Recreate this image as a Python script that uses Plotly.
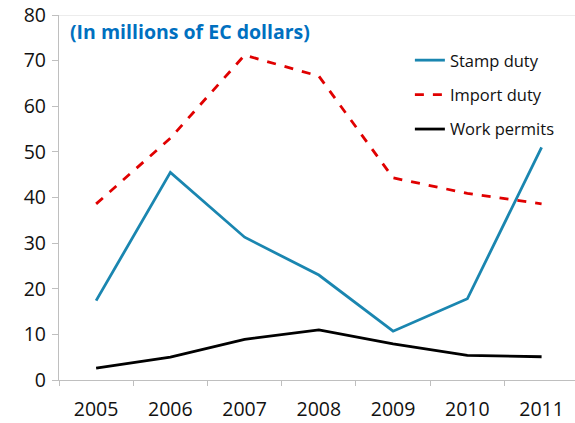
import plotly.graph_objects as go

years = ["2005", "2006", "2007", "2008", "2009", "2010", "2011"]
stamp_duty = [17.4, 45.5, 31.3, 23.0, 10.7, 17.8, 51.0]
import_duty = [38.6, 53.0, 71.2, 66.6, 44.3, 40.9, 38.6]
work_permits = [2.6, 5.0, 8.9, 11.0, 7.9, 5.4, 5.1]
y_ticks = [0, 10, 20, 30, 40, 50, 60, 70, 80]

FONT = "Open Sans"
AXIS_GRAY = "#bfbfbf"

fig = go.Figure()
fig.add_trace(go.Scatter(x=years, y=stamp_duty, mode="lines", name="Stamp duty",
                         legendgroup="a", line=dict(color="#1a86b0", width=2.8)))
fig.add_trace(go.Scatter(x=years, y=import_duty, mode="lines", name="Import duty",
                         legendgroup="b", line=dict(color="#e00000", width=2.8, dash="dash")))
fig.add_trace(go.Scatter(x=years, y=work_permits, mode="lines", name="Work permits",
                         legendgroup="c", line=dict(color="#000000", width=2.8)))

# top border line at the axis maximum
fig.add_shape(type="line", xref="paper", yref="y", x0=-0.013, x1=1, y0=80, y1=80,
              line=dict(color="#d9d9d9", width=1.2), layer="below")

fig.add_annotation(text="<b>(In millions of EC dollars)</b>", xref="paper", yref="paper",
                   x=0.018, y=0.955, xanchor="left", yanchor="middle", showarrow=False,
                   font=dict(family=FONT, size=19.5, color="#0070c0"))

fig.update_layout(
    width=575, height=423,
    margin=dict(l=59, r=0, t=15, b=43),
    paper_bgcolor="white", plot_bgcolor="white",
    font=dict(family=FONT, color="#222222"),
    legend=dict(x=0.68, y=0.9235, xanchor="left", yanchor="top",
                font=dict(family=FONT, size=16.5, color="#111111"),
                tracegroupgap=10, itemwidth=30, bgcolor="rgba(0,0,0,0)"),
    xaxis=dict(type="category", range=[-0.5, 6.45], tickson="boundaries",
               ticks="outside", ticklen=5, tickcolor=AXIS_GRAY,
               showline=True, linecolor=AXIS_GRAY, linewidth=1.2,
               ticklabelstandoff=11,
               showgrid=False, tickfont=dict(family=FONT, size=19.5, color="#111111")),
    yaxis=dict(range=[0, 80], tickvals=y_ticks, ticks="outside", ticklen=6,
               tickcolor=AXIS_GRAY, showline=True, linecolor=AXIS_GRAY, linewidth=1.2,
               showgrid=False, zeroline=False, ticklabelstandoff=2,
               tickfont=dict(family=FONT, size=19.5, color="#111111")),
)

fig.write_html("out.html")
